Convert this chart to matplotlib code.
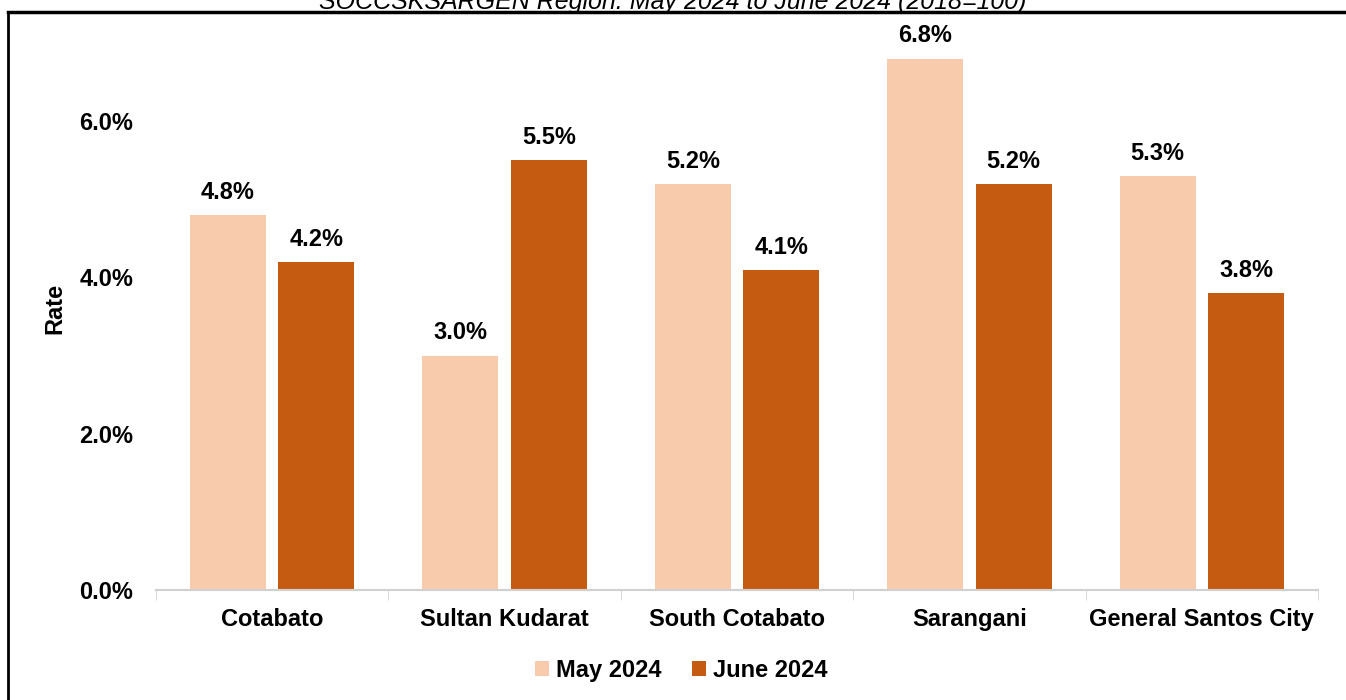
import numpy as np
import matplotlib.pyplot as plt
from matplotlib.lines import Line2D

plt.rcParams['font.family'] = ['Liberation Sans', 'DejaVu Sans']

provinces = ["Cotabato", "Sultan Kudarat", "South Cotabato", "Sarangani", "General Santos City"]
may_2024 = [4.8, 3.0, 5.2, 6.8, 5.3]
june_2024 = [4.2, 5.5, 4.1, 5.2, 3.8]
title = "SOCCSKSARGEN Region: May 2024 to June 2024 (2018=100)"

fig = plt.figure(figsize=(13.46, 7), dpi=100)
ax = fig.add_axes([0.1159, 0.157, 0.8633, 0.804])

x = np.arange(len(provinces))
w = 0.327
b1 = ax.bar(x - 0.19, may_2024, w, color='#F8CBAD', label='May 2024')
b2 = ax.bar(x + 0.19, june_2024, w, color='#C55A11', label='June 2024')
for bars in (b1, b2):
    for r in bars:
        ax.annotate(f"{r.get_height():.1f}%", (r.get_x() + r.get_width() / 2, r.get_height()),
                    xytext=(0, 8), textcoords='offset points', ha='center', va='bottom',
                    fontsize=17, fontweight='bold')

ax.set_xlim(-0.5, len(provinces) - 0.5)
ax.set_ylim(0, 7.2)
ax.set_yticks([0, 2, 4, 6])
ax.set_yticklabels([f"{v:.1f}%" for v in [0, 2, 4, 6]], fontsize=17, fontweight='bold')
ax.set_xticks(x)
ax.set_xticklabels(provinces, fontsize=17, fontweight='bold')
ax.set_xticks(np.arange(-0.5, len(provinces)), minor=True)
ax.tick_params(axis='x', which='major', length=0, pad=13)
ax.tick_params(axis='x', which='minor', length=7, color='#d0d0d0')
ax.tick_params(axis='y', length=0, pad=16.5)
for s in ['top', 'right', 'left']:
    ax.spines[s].set_visible(False)
ax.spines['bottom'].set_color('#d0d0d0')
ax.spines['bottom'].set_linewidth(1.5)
ax.set_ylabel("Rate", fontsize=17, fontweight='bold', labelpad=9)

ax.legend(loc='upper center', bbox_to_anchor=(0.452, -0.085), ncol=2, frameon=False,
          prop={'size': 17, 'weight': 'bold'}, handlelength=0.6, handleheight=0.6,
          handletextpad=0.3, columnspacing=1.3)

fig.text(0.5, 1 - 9 / 700, title, ha='center', va='baseline', fontsize=18, style='italic')
fig.add_artist(Line2D([8 / 1346, 1], [1 - 12 / 700, 1 - 12 / 700], color='black', lw=2.5,
                      transform=fig.transFigure))
fig.add_artist(Line2D([8 / 1346, 8 / 1346], [0, 1 - 12 / 700], color='black', lw=2,
                      transform=fig.transFigure))

fig.savefig("out.png", dpi=100)
